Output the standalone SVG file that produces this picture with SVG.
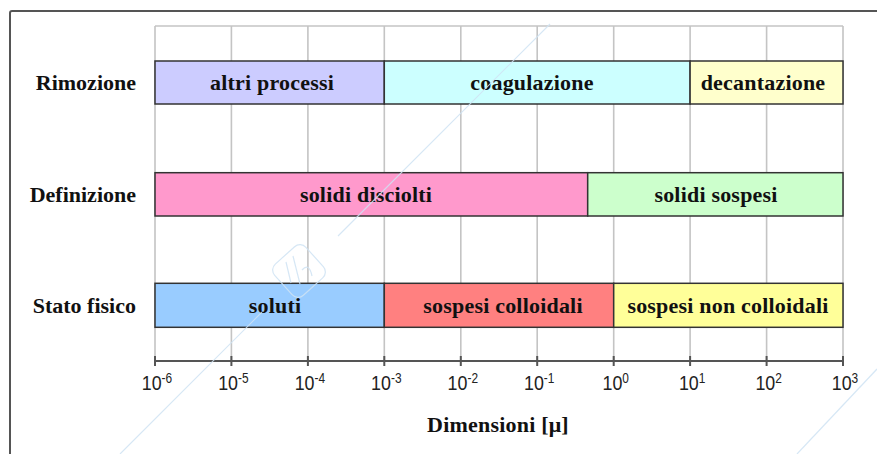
<svg xmlns="http://www.w3.org/2000/svg" width="877" height="454" viewBox="0 0 877 454">
  <style>
    .frame { fill: none; stroke: #555555; stroke-width: 2; }
    .grid { stroke: #c4c4c4; stroke-width: 1.6; fill: none; }
    .axis { stroke: #555555; stroke-width: 2; fill: none; }
    .bar { stroke: #333333; stroke-width: 1.5; }
    .row { font-family: "Liberation Serif", "Times New Roman", serif; font-weight: bold; font-size: 22px; fill: #111111; text-anchor: end; }
    .lbl { font-family: "Liberation Serif", "Times New Roman", serif; font-weight: bold; font-size: 22px; fill: #111111; text-anchor: middle; letter-spacing: 0.2px; }
    .tick { font-family: "Liberation Sans", Arial, sans-serif; font-size: 21px; fill: #222222; text-anchor: middle; }
    .sup { font-size: 14px; }
    .wm { stroke: #cfe3f3; stroke-width: 1.2; fill: none; opacity: 0.85; }
  </style>

  <rect x="0" y="0" width="877" height="454" fill="#ffffff"/>

  <!-- outer frame (top and left edges) -->
  <path class="frame" d="M10,454 V13 Q10,11 12,11 H877"/>

  <!-- plot area grid: one vertical line per decade -->
  <g id="grid">
    <path class="grid" d="M155,26 H843"/>
    <path class="grid" d="M155,26 V361 M231.4,26 V361 M307.9,26 V361 M384.3,26 V361 M460.8,26 V361 M537.2,26 V361 M613.7,26 V361 M690.1,26 V361 M766.6,26 V361 M843,26 V361"/>
  </g>

  <!-- x axis with ticks -->
  <g id="axis">
    <path class="axis" d="M155,361 H843"/>
    <path class="axis" d="M155,356 V366 M231.4,356 V366 M307.9,356 V366 M384.3,356 V366 M460.8,356 V366 M537.2,356 V366 M613.7,356 V366 M690.1,356 V366 M766.6,356 V366 M843,356 V366"/>
    <text class="tick" transform="translate(157,390) scale(0.85,1)">10<tspan class="sup" dy="-7">-6</tspan></text>
    <text class="tick" transform="translate(233.4,390) scale(0.85,1)">10<tspan class="sup" dy="-7">-5</tspan></text>
    <text class="tick" transform="translate(309.9,390) scale(0.85,1)">10<tspan class="sup" dy="-7">-4</tspan></text>
    <text class="tick" transform="translate(386.3,390) scale(0.85,1)">10<tspan class="sup" dy="-7">-3</tspan></text>
    <text class="tick" transform="translate(462.8,390) scale(0.85,1)">10<tspan class="sup" dy="-7">-2</tspan></text>
    <text class="tick" transform="translate(539.2,390) scale(0.85,1)">10<tspan class="sup" dy="-7">-1</tspan></text>
    <text class="tick" transform="translate(615.7,390) scale(0.85,1)">10<tspan class="sup" dy="-7">0</tspan></text>
    <text class="tick" transform="translate(692.1,390) scale(0.85,1)">10<tspan class="sup" dy="-7">1</tspan></text>
    <text class="tick" transform="translate(768.6,390) scale(0.85,1)">10<tspan class="sup" dy="-7">2</tspan></text>
    <text class="tick" transform="translate(845,390) scale(0.85,1)">10<tspan class="sup" dy="-7">3</tspan></text>
    <text class="lbl" x="498" y="432">Dimensioni [μ]</text>
  </g>

  <!-- row: Rimozione -->
  <g id="rimozione">
    <text class="row" x="136" y="90">Rimozione</text>
    <g id="altri-processi">
      <rect class="bar" x="155" y="61" width="229.3" height="43" fill="#ccccff"/>
      <text class="lbl" x="272" y="90">altri processi</text>
    </g>
    <g id="coagulazione">
      <rect class="bar" x="384.3" y="61" width="305.8" height="43" fill="#ccffff"/>
      <text class="lbl" x="532" y="90">coagulazione</text>
    </g>
    <g id="decantazione">
      <rect class="bar" x="690.1" y="61" width="152.9" height="43" fill="#ffffcc"/>
      <text class="lbl" x="763" y="90">decantazione</text>
    </g>
  </g>

  <!-- row: Definizione -->
  <g id="definizione">
    <text class="row" x="136" y="201.5">Definizione</text>
    <g id="solidi-disciolti">
      <rect class="bar" x="155" y="172.7" width="432.7" height="43.3" fill="#ff99cc"/>
      <text class="lbl" x="366" y="201.5">solidi disciolti</text>
    </g>
    <g id="solidi-sospesi">
      <rect class="bar" x="587.7" y="172.7" width="255.3" height="43.3" fill="#ccffcc"/>
      <text class="lbl" x="716" y="201.5">solidi sospesi</text>
    </g>
  </g>

  <!-- row: Stato fisico -->
  <g id="stato-fisico">
    <text class="row" x="136" y="312.5">Stato fisico</text>
    <g id="soluti">
      <rect class="bar" x="155" y="283.3" width="229.3" height="44" fill="#99ccff"/>
      <text class="lbl" x="275" y="312.5">soluti</text>
    </g>
    <g id="sospesi-colloidali">
      <rect class="bar" x="384.3" y="283.3" width="229.4" height="44" fill="#ff8080"/>
      <text class="lbl" x="503" y="312.5">sospesi colloidali</text>
    </g>
    <g id="sospesi-non-colloidali">
      <rect class="bar" x="613.7" y="283.3" width="229.3" height="44" fill="#ffff99"/>
      <text class="lbl" x="728" y="312.5">sospesi non colloidali</text>
    </g>
  </g>

  <!-- faint watermark strokes -->
  <g id="watermark">
    <path class="wm" d="M120,454 L262,312 M338,236 L550,24"/>
    <path class="wm" d="M797,454 L877,369"/>
    <rect class="wm" x="278" y="250" width="42" height="42" rx="8" transform="rotate(-42 299 271)" stroke-width="2.2"/>
    <path class="wm" d="M291,283 L286,262 M300,284 L293,256 M302,270 Q309,262 312,276" stroke-width="3"/>
  </g>
</svg>
